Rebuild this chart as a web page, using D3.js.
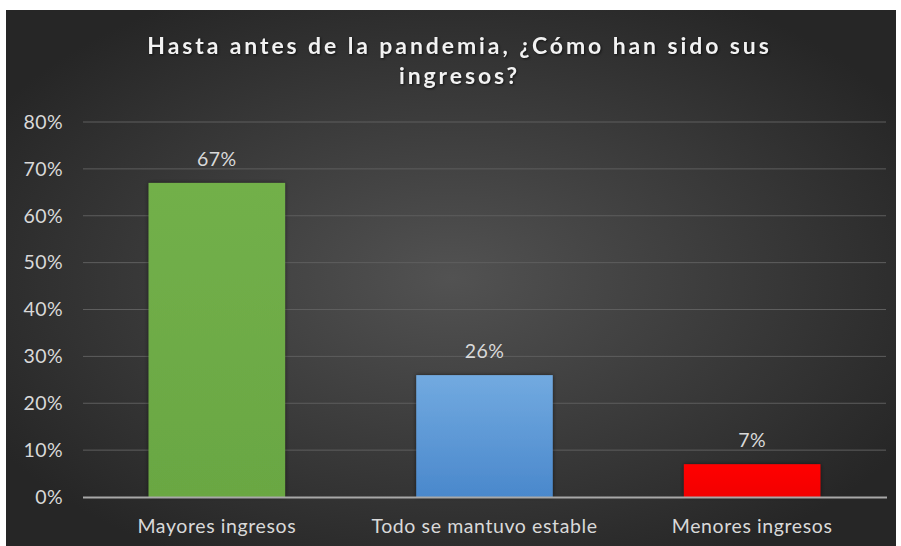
<!DOCTYPE html>
<html>
<head>
<meta charset="utf-8">
<script src="https://cdn.jsdelivr.net/npm/d3@7"></script>
<style>
  html, body { margin: 0; padding: 0; background: #ffffff; }
  svg { display: block; }
</style>
</head>
<body>
<svg id="chart" width="901" height="546"></svg>
<script>
// Survey answers and their shares
const categories = ["Mayores ingresos", "Todo se mantuvo estable", "Menores ingresos"];
const shares = [0.67, 0.26, 0.07];
const tickValues = [0, 0.1, 0.2, 0.3, 0.4, 0.5, 0.6, 0.7, 0.8];
const titleLines = ["Hasta antes de la pandemia, ¿Cómo han sido sus", "ingresos?"];

const svg = d3.select("#chart");
const FONT = "Lato, 'Open Sans', sans-serif";
const LABEL = "#d9d9d9";

const defs = svg.append("defs");
const bg = defs.append("radialGradient").attr("id", "bg")
  .attr("cx", "50%").attr("cy", "50%").attr("r", "60%");
bg.append("stop").attr("offset", "0%").attr("stop-color", "#525252");
bg.append("stop").attr("offset", "100%").attr("stop-color", "#262626");

const fills = [
  ["#72b04a", "#6aa743"],
  ["#72aae0", "#4a88cc"],
  ["#ff0000", "#f20000"]
];
fills.forEach((f, i) => {
  const g = defs.append("linearGradient").attr("id", "bar" + i)
    .attr("x1", 0).attr("y1", 0).attr("x2", 0).attr("y2", 1);
  g.append("stop").attr("offset", "0%").attr("stop-color", f[0]);
  g.append("stop").attr("offset", "100%").attr("stop-color", f[1]);
});
const sh = defs.append("filter").attr("id", "shadow")
  .attr("x", "-10%").attr("y", "-10%").attr("width", "120%").attr("height", "120%");
sh.append("feDropShadow").attr("dx", 0).attr("dy", 0).attr("stdDeviation", 2)
  .attr("flood-color", "#000").attr("flood-opacity", 0.55);

// chart area
svg.append("rect").attr("x", 6).attr("y", 10).attr("width", 890).attr("height", 536)
  .attr("fill", "url(#bg)");

const plot = { left: 83, right: 886, top: 122, bottom: 497 };

const x = d3.scaleBand().domain(categories).range([plot.left, plot.right])
  .paddingInner(0.49).paddingOuter(0.245);
const y = d3.scaleLinear().domain([0, 0.8]).range([plot.bottom, plot.top]);

// gridlines
svg.append("g").selectAll("line").data(tickValues.filter(d => d > 0)).join("line")
  .attr("x1", plot.left).attr("x2", plot.right)
  .attr("y1", d => y(d)).attr("y2", d => y(d))
  .attr("stroke", "#5e5e5e").attr("stroke-width", 1);

// y axis labels
const yAxis = d3.axisLeft(y).tickValues(tickValues).tickFormat(d3.format(".0%")).tickSize(0).tickPadding(0);
const ya = svg.append("g").attr("transform", `translate(63,0)`).call(yAxis);
ya.select(".domain").remove();
ya.selectAll("text").attr("fill", LABEL).attr("font-family", FONT)
  .attr("font-size", 19.5).attr("letter-spacing", 0.4);

// bars
svg.append("g").selectAll("rect").data(shares).join("rect")
  .attr("x", (d, i) => x(categories[i]))
  .attr("width", x.bandwidth())
  .attr("y", d => y(d))
  .attr("height", d => y(0) - y(d))
  .attr("fill", (d, i) => `url(#bar${i})`)
  .attr("filter", "url(#shadow)");

// baseline
svg.append("line").attr("x1", plot.left).attr("x2", plot.right + 1)
  .attr("y1", y(0) + 0.5).attr("y2", y(0) + 0.5)
  .attr("stroke", "#a8a8a8").attr("stroke-width", 2);

// value labels
svg.append("g").selectAll("text").data(shares).join("text")
  .attr("x", (d, i) => x(categories[i]) + x.bandwidth() / 2)
  .attr("y", d => y(d) - 17)
  .attr("text-anchor", "middle")
  .attr("fill", LABEL).attr("font-family", FONT).attr("font-size", 19.5).attr("letter-spacing", 0.4)
  .text(d => d3.format(".0%")(d));

// category labels
const xAxis = d3.axisBottom(x).tickSize(0).tickPadding(0);
const xa = svg.append("g").attr("transform", `translate(0,${plot.bottom + 36})`).call(xAxis);
xa.select(".domain").remove();
xa.selectAll("text").attr("fill", LABEL).attr("font-family", FONT)
  .attr("font-size", 19.5).attr("letter-spacing", 0.6).attr("dy", 0).attr("y", 0);

// title
svg.append("text").attr("x", 459.5).attr("y", 54).attr("text-anchor", "middle")
  .attr("fill", "#f2f2f2").attr("font-family", FONT)
  .attr("font-weight", "bold").attr("font-size", 23).attr("letter-spacing", 2.9)
  .style("filter", "drop-shadow(1px 1px 1px rgba(0,0,0,0.6))")
  .selectAll("tspan").data(titleLines).join("tspan")
  .attr("x", 459.5).attr("dy", (d, i) => i === 0 ? 0 : 30)
  .text(d => d);
</script>
</body>
</html>
